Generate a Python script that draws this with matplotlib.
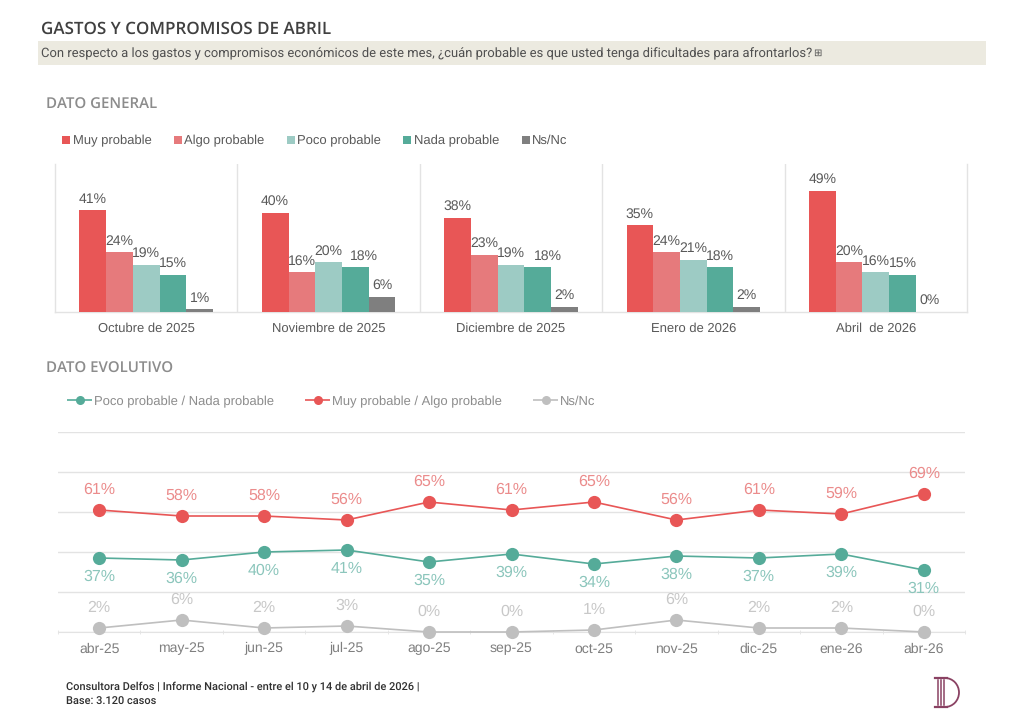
import matplotlib
matplotlib.use('Agg')
import matplotlib.pyplot as plt
from matplotlib.patches import Rectangle, Arc
import numpy as np

plt.rcParams['text.hinting'] = 'no_hinting'
plt.rcParams['text.hinting_factor'] = 1

W, H = 1024, 723

# bar data
panel_names = ['Octubre de 2025', 'Noviembre de 2025', 'Diciembre de 2025', 'Enero de 2026', 'Abril  de 2026']
bar_names = ['Muy probable', 'Algo probable', 'Poco probable', 'Nada probable', 'Ns/Nc']
muy = [41, 40, 38, 35, 49]
algo = [24, 16, 23, 24, 20]
poco = [19, 20, 19, 21, 16]
nada = [15, 18, 18, 18, 15]
nsnc = [1, 6, 2, 2, 0]
bar_colors = ['#E85656', '#E67A7C', '#9DCBC4', '#55AB99', '#7F7F7F']

# line data
months = ['abr-25', 'may-25', 'jun-25', 'jul-25', 'ago-25', 'sep-25', 'oct-25', 'nov-25', 'dic-25', 'ene-26', 'abr-26']
pocoNada = [37, 36, 40, 41, 35, 39, 34, 38, 37, 39, 31]
muyAlgo = [61, 58, 58, 56, 65, 61, 65, 56, 61, 59, 69]
lineNs = [2, 6, 2, 3, 0, 0, 1, 6, 2, 2, 0]

TXT = '#595959'
GRID = '#E3E3E3'
ARIAL = 'Liberation Sans'
OPEN = 'Open Sans'


def px_axes(x0, y0, x1, y1):
    # axes from pixel box, y measured from the top
    return fig.add_axes([x0 / W, 1 - y1 / H, (x1 - x0) / W, (y1 - y0) / H])


fig = plt.figure(figsize=(W / 100, H / 100), dpi=100, facecolor='white')

# overlay in pixels for headers, legends and the logo
ov = fig.add_axes([0, 0, 1, 1], zorder=5)
ov.set_xlim(0, W)
ov.set_ylim(H, 0)
ov.axis('off')
ov.patch.set_alpha(0)

ov.add_patch(Rectangle((38, 41), 948, 24, color='#ECEAE0', lw=0))
ov.text(41, 29, 'GASTOS Y COMPROMISOS DE ABRIL', family=OPEN, weight='semibold', fontsize=11.97, color='#404040', va='center')
ov.text(41, 53.5, 'Con respecto a los gastos y compromisos económicos de este mes, ¿cuán probable es que usted tenga dificultades para afrontarlos?',
        family='Roboto', fontsize=9.3, color='#505050', va='center')
ov.text(813, 53.5, '⊞', family='DejaVu Sans', fontsize=7, color='#505050', va='center', ha='left')
ov.text(46, 104.5, 'DATO GENERAL', family=OPEN, weight='semibold', fontsize=10.7, color='#8C8C8C', va='center')
ov.text(46, 368.5, 'DATO EVOLUTIVO', family=OPEN, weight='semibold', fontsize=10.7, color='#8C8C8C', va='center')
ov.text(66, 687, 'Consultora Delfos | Informe Nacional - entre el 10 y 14 de abril de 2026 |', family='Roboto', weight='medium', fontsize=7.9, color='#303030', va='center')
ov.text(66, 702, 'Base: 3.120 casos', family='Roboto', weight='medium', fontsize=7.9, color='#303030', va='center')

# bar legend
for name, col, sq, tx in zip(bar_names, bar_colors, [62, 174, 287, 403, 522], [73, 184, 297, 414, 532]):
    ov.add_patch(Rectangle((sq, 136), 8, 8, color=col, lw=0))
    ov.text(tx, 144, name, family=ARIAL, fontsize=9.6, color=TXT, va='baseline')

# bars
ax = px_axes(55, 163.5, 967, 311.5)
series = [muy, algo, poco, nada, nsnc]
w = 0.1465
nudge = {(1, 3): 0.05, (2, 3): 0.055}
x = np.arange(len(panel_names)) + 0.5
for j, vals in enumerate(series):
    xs = x + (j - 2) * w
    ax.bar(xs, vals, w, color=bar_colors[j], lw=0, zorder=3)
    for i, v in enumerate(vals):
        ax.annotate(f'{v}%', (xs[i] + nudge.get((i, j), 0), v), xytext=(0, 8), textcoords='offset points',
                    ha='center', va='center', family=ARIAL, fontsize=10.2, color=TXT, zorder=4, annotation_clip=False)
ax.set_xlim(0, 5)
ax.set_ylim(0, 60)
ax.set_yticks([])
ax.set_xticks(x)
ax.set_xticklabels(panel_names, family=ARIAL, fontsize=9.7, color=TXT)
ax.tick_params(axis='x', length=0, pad=7.8)
for s in ['top']:
    ax.spines[s].set_visible(False)
for s in ['left', 'right', 'bottom']:
    ax.spines[s].set_color(GRID)
    ax.spines[s].set_linewidth(1)
for sep in range(1, 5):
    ax.axvline(sep, color=GRID, lw=1, zorder=1)

# line chart
ax2 = px_axes(58, 432, 965, 632)
cx = np.arange(len(months))
line_styles = [
    (pocoNada, '#55AB99', '#8CC6BC', -19, 'Poco probable / Nada probable'),
    (muyAlgo, '#E85656', '#EB8C8C', 20, 'Muy probable / Algo probable'),
    (lineNs, '#BFBFBF', '#C8C8C8', 20.5, 'Ns/Nc'),
]
for vals, col, lab, off, name in line_styles:
    ax2.plot(cx, vals, color=col, lw=1.2, marker='o', ms=9.5, mew=0, clip_on=False, zorder=4)
    for i, v in enumerate(vals):
        ax2.annotate(f'{v}%', (cx[i], v), xytext=(0, off * 0.72), textcoords='offset points', ha='center', va='center',
                     family=ARIAL, fontsize=11.2, color=lab, zorder=5, annotation_clip=False)
ax2.set_xlim(-0.5, len(months) - 0.5)
ax2.set_ylim(0, 100)
ax2.set_yticks(range(0, 101, 20))
ax2.set_yticklabels([])
ax2.tick_params(axis='y', length=0)
ax2.grid(axis='y', color=GRID, lw=1, zorder=0)
ax2.set_axisbelow(True)
ax2.set_xticks(cx)
ax2.set_xticklabels(months, family=ARIAL, fontsize=9.8, color='#7F7F7F')
ax2.tick_params(axis='x', length=0, pad=7.5)
ax2.set_xticks(np.arange(len(months) + 1) - 0.5, minor=True)
ax2.tick_params(axis='x', which='minor', length=3, color=GRID, direction='inout')
for s in ['top', 'left', 'right']:
    ax2.spines[s].set_visible(False)
ax2.spines['bottom'].set_color(GRID)

# line legend
for (vals, col, lab, off, name), h0, tx in zip(line_styles, [67, 305, 533], [94, 332, 560]):
    ov.plot([h0, h0 + 25], [400, 400], color=col, lw=1.2, marker='', solid_capstyle='butt')
    ov.plot([h0 + 12.5], [400], color=col, marker='o', ms=6.5, mew=0)
    ov.text(tx, 405, name, family=ARIAL, fontsize=9.6, color='#8C8C8C', va='baseline')

# logo
LOGO = '#8A4263'
ov.plot([935, 947], [678, 678], color=LOGO, lw=1.6)
ov.plot([935, 947], [707, 707], color=LOGO, lw=1.6)
for lx in [937.5, 940.5, 943.5]:
    ov.plot([lx, lx], [680, 705], color=LOGO, lw=1.1)
ov.add_patch(Arc((945, 692.5), 28, 29, theta1=-90, theta2=90, color=LOGO, lw=1.3))
ov.set_xlim(0, W)
ov.set_ylim(H, 0)

fig.savefig('out.png', dpi=100)
